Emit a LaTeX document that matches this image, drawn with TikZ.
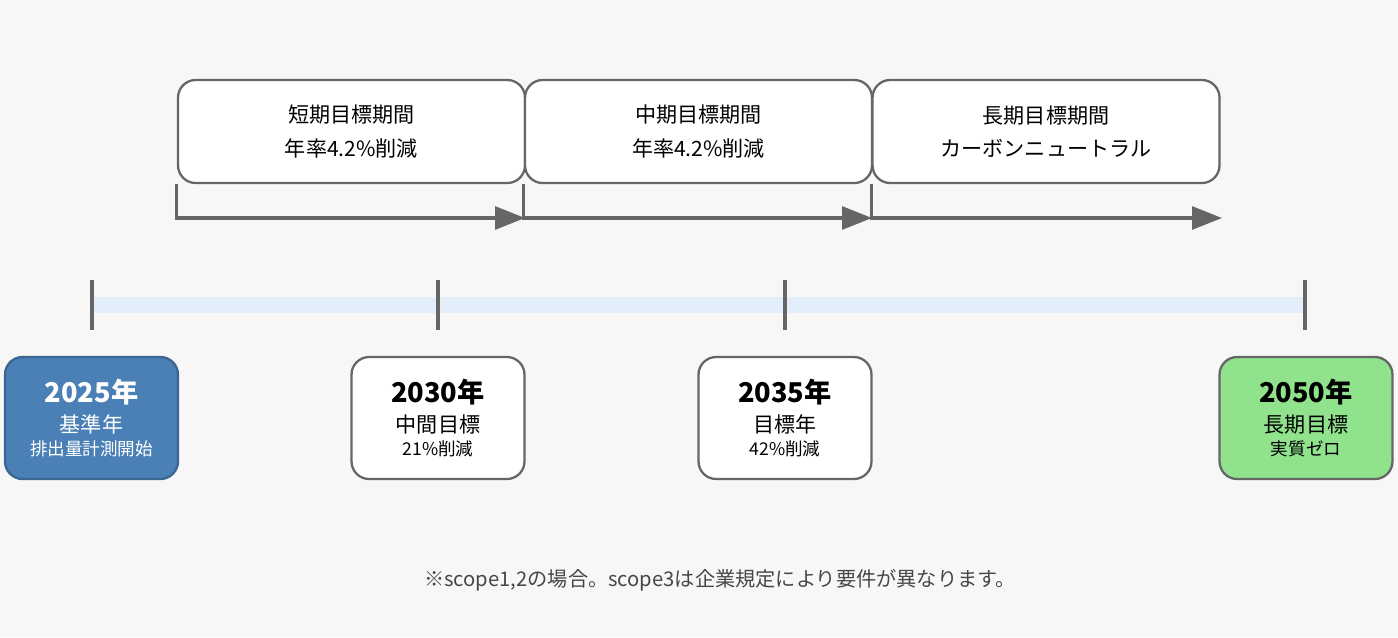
\documentclass[tikz,border=0pt]{standalone}
\usepackage{fontspec}
\setmainfont{Noto Sans CJK JP}
\usetikzlibrary{arrows.meta, positioning, calc}
\definecolor{bggray}{RGB}{247,247,247}
\definecolor{linegray}{RGB}{102,102,102}
\definecolor{bandblue}{RGB}{226,238,250}
\definecolor{baseblue}{RGB}{74,128,181}
\definecolor{goalgreen}{RGB}{144,226,140}

\begin{document}
\begin{tikzpicture}[x=0.02cm, y=-0.02cm,
    period/.style={draw=linegray, line width=1.3pt, rounded corners=10pt, fill=white,
        minimum width=6.94cm, minimum height=2.06cm, align=center,
        font=\fontsize{12}{19}\selectfont},
    yearbox/.style={draw=linegray, line width=1.3pt, rounded corners=10pt, fill=white,
        minimum width=3.46cm, minimum height=2.44cm, align=center},
    phase/.style={linegray, line width=1.8pt, -{Triangle[length=17pt, width=13pt]}},
    tick/.style={linegray, line width=2.8pt}]
    % Background
    \fill[bggray] (0,0) rectangle (1398,637);
    \useasboundingbox (0,0) rectangle (1398,637);

    % Periods
    \node[period] (short) at (351.5,131.5) {短期目標期間\\年率4.2\%削減};
    \node[period] (mid) at (698.5,131.5) {中期目標期間\\年率4.2\%削減};
    \node[period] (long) at (1046,131.5) {長期目標期間\\カーボンニュートラル};

    % Phase arrows
    \coordinate (shortend) at (525,218);
    \coordinate (midend) at (872,218);
    \coordinate (longend) at (1222,218);
    \draw[phase] (short.south west) -- (short.south west |- shortend) -- (shortend);
    \draw[phase] (mid.south west) -- (mid.south west |- midend) -- (midend);
    \draw[phase] (long.south west) -- (long.south west |- longend) -- (longend);

    % Timeline
    \fill[bandblue] (92,297) rectangle (1305,313);
    \foreach \x in {92, 438, 785, 1305} {
        \draw[tick] (\x,280) -- (\x,330);
    }

    % Milestones
    \node[yearbox, fill=baseblue, draw=baseblue!80!black, text=white] (y2025) at (91.5,418)
        {{\fontsize{15.5}{18}\selectfont\bfseries 2025年}\\[5pt]
         {\fontsize{12}{14}\selectfont 基準年}\\[1pt]{\fontsize{10}{12}\selectfont 排出量計測開始}};
    \node[yearbox] (y2030) at (438,418)
        {{\fontsize{15.5}{18}\selectfont\bfseries 2030年}\\[5pt]
         {\fontsize{12}{14}\selectfont 中間目標}\\[1pt]{\fontsize{10}{12}\selectfont 21\%削減}};
    \node[yearbox] (y2035) at (785,418)
        {{\fontsize{15.5}{18}\selectfont\bfseries 2035年}\\[5pt]
         {\fontsize{12}{14}\selectfont 目標年}\\[1pt]{\fontsize{10}{12}\selectfont 42\%削減}};
    \node[yearbox, fill=goalgreen] (y2050) at (1306,418)
        {{\fontsize{15.5}{18}\selectfont\bfseries 2050年}\\[5pt]
         {\fontsize{12}{14}\selectfont 長期目標}\\[1pt]{\fontsize{10}{12}\selectfont 実質ゼロ}};

    % Note
    \node[font=\fontsize{11.5}{14}\selectfont, text=linegray!70!black] (note) at (720,580)
        {※scope1,2の場合。scope3は企業規定により要件が異なります。};
\end{tikzpicture}
\end{document}
